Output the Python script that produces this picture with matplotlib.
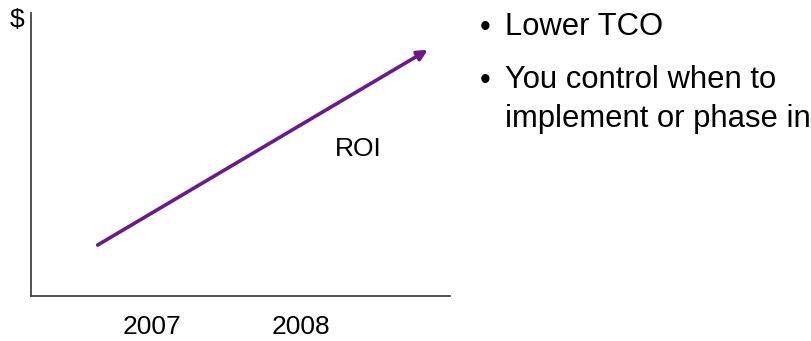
import matplotlib
matplotlib.use("Agg")
import matplotlib.pyplot as plt

plt.rcParams['font.family'] = ['Liberation Sans', 'DejaVu Sans']

# data
years = [2007, 2008]
year_labels = ['2007', '2008']
arrow_x = [2006.63, 2008.86]
arrow_y = [0.18, 0.87]
roi_pos = (2008.39, 0.52)
bullets = [['Lower TCO'], ['You control when to', 'implement or phase in']]

W, H = 812, 341
fig = plt.figure(figsize=(W / 100, H / 100), dpi=100)
ax = fig.add_axes([31 / W, (H - 296) / H, (450 - 31) / W, (296 - 13) / H])

ax.set_xlim(2006.18, 2009.01)
ax.set_ylim(0, 1)
ax.set_xticks(years)
ax.set_xticklabels(year_labels, fontsize=19)
ax.set_yticks([])
ax.tick_params(axis='x', length=0, pad=14)
for s in ['top', 'right']:
    ax.spines[s].set_visible(False)
for s in ['left', 'bottom']:
    ax.spines[s].set_color('#444444')
    ax.spines[s].set_linewidth(1.3)

ax.annotate('', xy=(arrow_x[1], arrow_y[1]), xytext=(arrow_x[0], arrow_y[0]),
            arrowprops=dict(arrowstyle='-|>', color='#6b1a8c', lw=2.6,
                            mutation_scale=15, shrinkA=0, shrinkB=0))
ax.text(roi_pos[0], roi_pos[1], 'ROI', fontsize=19, ha='center', va='center')

fig.text(17 / W, 1 - 20 / H, '$', fontsize=19, ha='center', va='center')

# bullet list on the right, one baseline per line
baselines = [[35], [88, 127]]
for lines, bls in zip(bullets, baselines):
    fig.text(485 / W, 1 - (bls[0] - 7) / H, '\u2022', fontsize=22,
             ha='center', va='center')
    for txt, b in zip(lines, bls):
        fig.text(505 / W, 1 - b / H, txt, fontsize=22.3, ha='left', va='baseline')

fig.savefig('out.png', dpi=100)
